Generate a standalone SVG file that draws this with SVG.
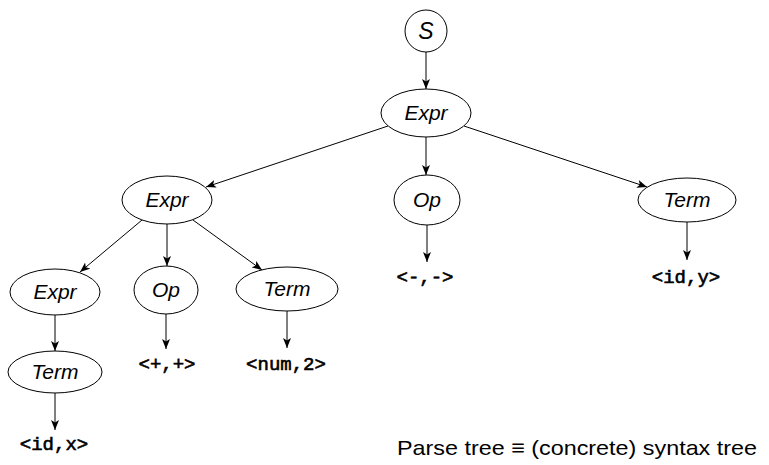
<svg xmlns="http://www.w3.org/2000/svg" width="769" height="465" viewBox="0 0 769 465">
<defs>
<marker id="arr" viewBox="0 0 10 8" refX="10" refY="4" markerWidth="10" markerHeight="8" markerUnits="userSpaceOnUse" orient="auto">
<path d="M0,0 L10,4 L0,8 L2.5,4 Z" fill="#000"/>
</marker>
<style>
.n{fill:#fff;stroke:#000;stroke-width:1}
.l{font-family:"Liberation Sans","DejaVu Sans",sans-serif;font-style:italic;font-size:21px;text-anchor:middle;fill:#000}
.t{font-family:"Liberation Mono","DejaVu Sans Mono",monospace;font-size:19px;text-anchor:middle;fill:#000;stroke:#000;stroke-width:0.6}
.e{stroke:#000;stroke-width:1;fill:none;marker-end:url(#arr)}
.c{font-family:"Liberation Sans","DejaVu Sans",sans-serif;font-size:21px;fill:#000}
</style>
</defs>
<rect width="769" height="465" fill="#fff"/>
<g id="connectors">
<line class="e" x1="426" y1="52" x2="426" y2="89"/>
<line class="e" x1="388" y1="126" x2="206" y2="187"/>
<line class="e" x1="426" y1="137" x2="426" y2="175"/>
<line class="e" x1="464" y1="126" x2="647" y2="187"/>
<line class="e" x1="142" y1="220" x2="80" y2="272"/>
<line class="e" x1="167" y1="224" x2="167" y2="266"/>
<line class="e" x1="193" y1="220" x2="262" y2="270"/>
<line class="e" x1="427" y1="225" x2="427" y2="262"/>
<line class="e" x1="687" y1="222" x2="687" y2="260"/>
<line class="e" x1="166" y1="314" x2="166" y2="349"/>
<line class="e" x1="287" y1="311" x2="287" y2="348"/>
<line class="e" x1="55" y1="315" x2="55" y2="351"/>
<line class="e" x1="55" y1="393" x2="55" y2="430"/>
</g>
<g id="S"><circle class="n" cx="426" cy="31" r="21"/><text class="l" x="426" y="39" style="font-size:23px">S</text></g>
<g id="Expr1"><ellipse class="n" cx="426" cy="113" rx="45" ry="24"/><text class="l" x="426" y="120">Expr</text></g>
<g id="Expr2"><ellipse class="n" cx="167" cy="200" rx="45" ry="24"/><text class="l" x="167" y="207">Expr</text></g>
<g id="Op1"><ellipse class="n" cx="427" cy="200" rx="33" ry="25"/><text class="l" x="427" y="207">Op</text></g>
<g id="Term1"><ellipse class="n" cx="687" cy="200" rx="49" ry="22"/><text class="l" x="687" y="207">Term</text></g>
<g id="Expr3"><ellipse class="n" cx="55" cy="292" rx="45" ry="23"/><text class="l" x="55" y="299">Expr</text></g>
<g id="Op2"><ellipse class="n" cx="166" cy="290" rx="32" ry="24"/><text class="l" x="166" y="297">Op</text></g>
<g id="Term2"><ellipse class="n" cx="287" cy="289" rx="51" ry="22"/><text class="l" x="287" y="296">Term</text></g>
<g id="Term3"><ellipse class="n" cx="55" cy="372" rx="47" ry="21"/><text class="l" x="55" y="379">Term</text></g>
<g id="leaf-minus"><text class="t" x="425" y="283">&lt;-,-&gt;</text></g>
<g id="leaf-idy"><text class="t" x="686" y="283">&lt;id,y&gt;</text></g>
<g id="leaf-plus"><text class="t" x="167" y="370">&lt;+,+&gt;</text></g>
<g id="leaf-num2"><text class="t" x="286" y="370">&lt;num,2&gt;</text></g>
<g id="leaf-idx"><text class="t" x="54" y="450">&lt;id,x&gt;</text></g>
<g id="caption"><text class="c" x="397" y="455" textLength="360" lengthAdjust="spacingAndGlyphs">Parse tree ≡ (concrete) syntax tree</text></g>
</svg>
